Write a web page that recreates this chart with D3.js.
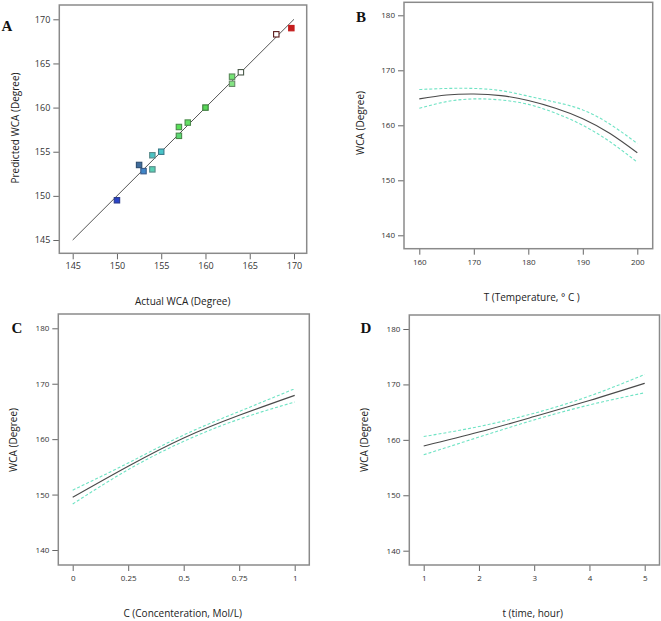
<!DOCTYPE html>
<html><head><meta charset="utf-8">
<script src="https://cdn.jsdelivr.net/npm/d3@7"></script>
<style>body{margin:0;background:#fff}svg{display:block}text{font-family:"Open Sans",sans-serif}</style>
</head><body>
<script>
// ---- Data ----
// Panel A: actual vs predicted WCA
const actualWCA    = [150, 152.5, 153, 154, 154, 155, 157, 157, 158, 160, 163, 163, 164, 168, 169.7];
const predictedWCA = [149.5, 153.5, 152.8, 154.6, 153.0, 155.0, 157.8, 156.8, 158.3, 160.0, 163.5, 162.7, 164.0, 168.3, 169.0];
const pointColors  = ["#2a44c8","#3f6c9c","#3f86c8","#4cc4c4","#58d0b4","#48c4c8","#58e058","#5cd874","#64e064","#58d858","#74e474","#84e484","#ffffff","#ffffff","#c41c1c"];
const pointStroke  = ["#2a3a8a","#2e4e70","#3a5a8a","#5a8a8a","#5a8a8a","#3a7a8a","#4a8a4a","#4a8a4a","#4a8a4a","#3a7a3a","#5a8a5a","#6a8a6a","#4a5a4a","#5a1a1a","#c41c1c"];
const ticksA = [145, 150, 155, 160, 165, 170];

// Panel B: WCA vs Temperature
const tempT   = [160, 165, 170, 175, 180, 185, 190, 195, 200];
const wcaB    = [164.8, 165.5, 165.7, 165.4, 164.5, 163.1, 161.2, 158.5, 155.0];
const wcaBHi  = [166.5, 166.7, 166.7, 166.3, 165.3, 164.2, 162.8, 160.2, 156.7];
const wcaBLo  = [163.1, 164.3, 164.8, 164.6, 163.8, 162.2, 160.0, 157.0, 153.3];
const ticksBx = [160, 170, 180, 190, 200];

// Panel C: WCA vs Concentration
const concC   = [0, 0.25, 0.5, 0.75, 1];
const wcaC    = [149.5, 155.1, 160.2, 164.3, 167.9];
const wcaCHi  = [150.8, 155.7, 160.75, 165.0, 169.1];
const wcaCLo  = [148.3, 154.5, 159.6, 163.6, 166.7];
const ticksCx = [0, 0.25, 0.5, 0.75, 1];
const ticksCxLabels = ["0", "0.25", "0.5", "0.75", "1"];

// Panel D: WCA vs time
const timeD   = [1, 2, 3, 4, 5];
const wcaD    = [158.9, 161.4, 164.2, 167.1, 170.2];
const wcaDHi  = [160.6, 162.4, 164.8, 167.9, 171.8];
const wcaDLo  = [157.3, 160.5, 163.6, 166.3, 168.5];
const ticksDx = [1, 2, 3, 4, 5];

const ticksWCA = [140, 150, 160, 170, 180];

// ---- Layout ----
const svg = d3.select("body").append("svg").attr("width", 661).attr("height", 621);

const FRAME = "#8a8a8a", TXT = "#333";

function panel(cfg) {
  const g = svg.append("g");
  const x = d3.scaleLinear().domain(cfg.xd).range(cfg.xr);
  const y = d3.scaleLinear().domain(cfg.yd).range(cfg.yr);
  const f = cfg.frame; // [x0,y0,x1,y1]
  const ax = g.append("g").attr("transform", `translate(0,${f[3]})`)
    .call(d3.axisBottom(x).tickValues(cfg.xt).tickSize(6).tickSizeOuter(0)
      .tickFormat((d,i) => cfg.xl ? cfg.xl[i] : d));
  const ay = g.append("g").attr("transform", `translate(${f[0]},0)`)
    .call(d3.axisLeft(y).tickValues(cfg.yt).tickSize(6).tickSizeOuter(0));
  [ax, ay].forEach(a => {
    a.select(".domain").remove();
    a.selectAll("line").attr("stroke", "#666").attr("stroke-width", 1);
    a.selectAll("text").attr("fill", TXT).style("font-size", cfg.fs + "px").style("font-family", '"Open Sans",sans-serif');
  });
  ax.selectAll("text").attr("dy", "0").attr("y", 16);
  ay.selectAll("text").attr("x", -9);
  g.append("rect").attr("x", f[0]).attr("y", f[1]).attr("width", f[2]-f[0]).attr("height", f[3]-f[1])
    .attr("fill", "none").attr("stroke", FRAME).attr("stroke-width", 1.5);
  g.append("text").attr("x", cfg.xtPos[0]).attr("y", cfg.xtPos[1]).attr("text-anchor", "middle")
    .attr("fill", "#222").style("font-size", "10px").text(cfg.xTitle);
  g.append("text").attr("transform", `translate(${cfg.ytPos[0]},${cfg.ytPos[1]}) rotate(-90)`)
    .attr("text-anchor", "middle").attr("fill", "#222").style("font-size", "10px").text(cfg.yTitle);
  g.append("text").attr("x", cfg.letter[0]).attr("y", cfg.letter[1]).attr("text-anchor", "middle")
    .style("font-family", '"Liberation Serif","Times New Roman",serif').style("font-weight", "bold")
    .style("font-size", "15px").attr("fill", "#111").text(cfg.label);
  return {g, x, y};
}

function curves(p, xs, mid, hi, lo) {
  const line = arr => d3.line().x((d,i) => p.x(xs[i])).y(d => p.y(d)).curve(d3.curveNatural)(arr);
  [hi, lo].forEach(a => p.g.append("path").attr("d", line(a)).attr("fill", "none")
    .attr("stroke", "#6fe3c4").attr("stroke-width", 1.1).attr("stroke-dasharray", "3,2"));
  p.g.append("path").attr("d", line(mid)).attr("fill", "none").attr("stroke", "#4a4a4a").attr("stroke-width", 1.1);
}

// Panel A
const pA = panel({xd:[145,170], xr:[72.7,294], yd:[145,170], yr:[240,19.3], frame:[59.3,5,306.7,253.3],
  xt:ticksA, yt:ticksA, fs:9, xTitle:"Actual WCA (Degree)", yTitle:"Predicted WCA (Degree)",
  xtPos:[182.7,305], ytPos:[19,128], letter:[7,31], label:"A"});
pA.g.append("line").attr("x1", pA.x(145)).attr("y1", pA.y(145)).attr("x2", pA.x(170)).attr("y2", pA.y(170))
  .attr("stroke", "#555").attr("stroke-width", 1);
pA.g.selectAll("rect.pt").data(actualWCA).join("rect").attr("class", "pt")
  .attr("x", (d,i) => pA.x(d) - 2.7).attr("y", (d,i) => pA.y(predictedWCA[i]) - 2.7)
  .attr("width", 5.4).attr("height", 5.4)
  .attr("fill", (d,i) => pointColors[i]).attr("stroke", (d,i) => pointStroke[i]).attr("stroke-width", 1.1);

// Panel B
const pB = panel({xd:[160,200], xr:[419.3,637.3], yd:[140,180], yr:[235.3,15.3], frame:[404,2.3,652.7,248.7],
  xt:ticksBx, yt:ticksWCA, fs:8, xTitle:"T (Temperature, \u00B0 C )", yTitle:"WCA (Degree)",
  xtPos:[531.7,301], ytPos:[364,123], letter:[361,22], label:"B"});
curves(pB, tempT, wcaB, wcaBHi, wcaBLo);

// Panel C
const pC = panel({xd:[0,1], xr:[72.7,294.7], yd:[140,180], yr:[550,328.3], frame:[58.3,314,309.3,565],
  xt:ticksCx, xl:ticksCxLabels, yt:ticksWCA, fs:8, xTitle:"C (Concenteration, Mol/L)", yTitle:"WCA (Degree)",
  xtPos:[182.7,617], ytPos:[16.5,440], letter:[17,333], label:"C"});
curves(pC, concC, wcaC, wcaCHi, wcaCLo);

// Panel D
const pD = panel({xd:[1,5], xr:[423.7,644.7], yd:[140,180], yr:[550.7,329], frame:[409.3,315,659.5,565],
  xt:ticksDx, yt:ticksWCA, fs:8, xTitle:"t (time, hour)", yTitle:"WCA (Degree)",
  xtPos:[532.7,617], ytPos:[367.5,440], letter:[366,333], label:"D"});
curves(pD, timeD, wcaD, wcaDHi, wcaDLo);
</script>
</body></html>
